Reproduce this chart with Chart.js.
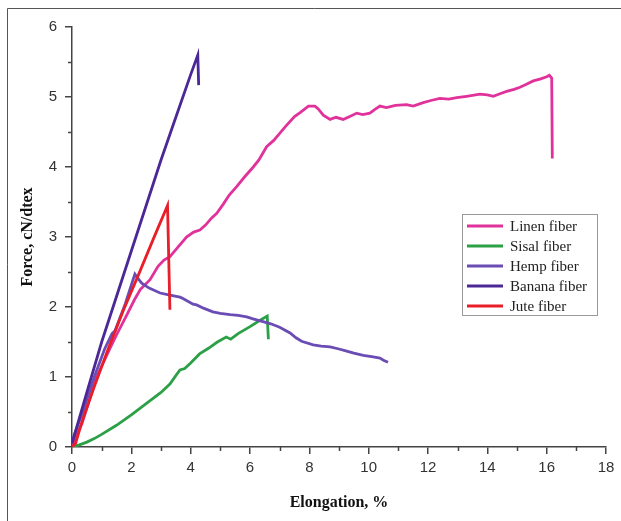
<!DOCTYPE html>
<html>
<head>
<meta charset="utf-8">
<script src="https://cdn.jsdelivr.net/npm/chart.js@4/dist/chart.umd.min.js"></script>
<style>
  html, body { margin: 0; padding: 0; background: #ffffff; }
  #wrap { position: relative; width: 621px; height: 521px; }
</style>
</head>
<body>
<div id="wrap"><canvas id="c" width="621" height="521"></canvas></div>
<script>
// ---- Data ----
const seriesNames = ["Linen fiber", "Sisal fiber", "Hemp fiber", "Banana fiber", "Jute fiber"];

const linenX = [0, 0.1, 0.34, 0.55, 0.83, 1.05, 1.28, 1.5, 1.84, 2.1, 2.3, 2.63, 2.9, 3.1, 3.3, 3.5, 3.86, 4.1, 4.31, 4.5, 4.7, 4.88, 5.1, 5.3, 5.55, 5.8, 6.11, 6.3, 6.56, 6.8, 7.0, 7.2, 7.5, 7.7, 7.97, 8.19, 8.3, 8.47, 8.7, 8.9, 9.14, 9.4, 9.6, 9.8, 10.04, 10.2, 10.38, 10.6, 10.9, 11.28, 11.5, 11.84, 12.1, 12.4, 12.7, 12.97, 13.3, 13.75, 14.0, 14.2, 14.45, 14.65, 14.9, 15.1, 15.3, 15.55, 15.8, 16.0, 16.09, 16.17, 16.19];
const linenY = [0, 0.12, 0.34, 0.62, 1.0, 1.2, 1.41, 1.6, 1.88, 2.1, 2.25, 2.39, 2.58, 2.67, 2.72, 2.82, 3.0, 3.07, 3.1, 3.17, 3.27, 3.34, 3.47, 3.6, 3.72, 3.85, 4.0, 4.1, 4.29, 4.38, 4.48, 4.58, 4.72, 4.78, 4.87, 4.87, 4.83, 4.74, 4.68, 4.71, 4.68, 4.73, 4.77, 4.75, 4.77, 4.82, 4.87, 4.85, 4.88, 4.89, 4.87, 4.92, 4.95, 4.98, 4.97, 4.99, 5.01, 5.04, 5.03, 5.01, 5.05, 5.08, 5.11, 5.14, 5.18, 5.23, 5.26, 5.29, 5.31, 5.27, 4.12];

const sisalX = [0, 0.25, 0.5, 0.75, 1.0, 1.5, 2.0, 2.5, 3.0, 3.3, 3.5, 3.64, 3.8, 4.0, 4.3, 4.6, 4.9, 5.2, 5.35, 5.6, 6.0, 6.34, 6.58, 6.62];
const sisalY = [0, 0.03, 0.07, 0.12, 0.18, 0.31, 0.46, 0.62, 0.78, 0.9, 1.02, 1.1, 1.12, 1.2, 1.33, 1.41, 1.5, 1.57, 1.54, 1.62, 1.72, 1.81, 1.87, 1.54];

const hempX = [0, 0.1, 0.4, 0.75, 1.1, 1.35, 1.45, 1.8, 2.05, 2.12, 2.2, 2.35, 2.6, 2.97, 3.3, 3.64, 3.74, 4.08, 4.2, 4.45, 4.75, 5.0, 5.33, 5.6, 5.89, 6.1, 6.44, 6.7, 7.0, 7.35, 7.55, 7.74, 8.13, 8.4, 8.7, 9.0, 9.26, 9.5, 9.82, 10.1, 10.38, 10.5, 10.65];
const hempY = [0.08, 0.2, 0.55, 1.0, 1.4, 1.62, 1.66, 2.05, 2.38, 2.47, 2.42, 2.34, 2.27, 2.2, 2.17, 2.14, 2.12, 2.04, 2.03, 1.98, 1.93, 1.91, 1.89, 1.88, 1.86, 1.83, 1.79, 1.76, 1.71, 1.63, 1.56, 1.51, 1.46, 1.44, 1.43, 1.4, 1.37, 1.34, 1.31, 1.29, 1.27, 1.24, 1.21];

const bananaX = [0, 0.5, 1.0, 1.5, 2.0, 2.5, 3.0, 3.5, 4.0, 4.24, 4.27];
const bananaY = [0.05, 0.78, 1.5, 2.15, 2.8, 3.45, 4.1, 4.71, 5.32, 5.6, 5.17];

const juteX = [0, 0.12, 0.35, 0.75, 1.2, 1.72, 2.25, 2.75, 3.22, 3.3];
const juteY = [0, 0.05, 0.38, 0.86, 1.38, 1.94, 2.47, 2.98, 3.45, 1.96];

const xTickValues = [0, 2, 4, 6, 8, 10, 12, 14, 16, 18];
const yTickValues = [0, 1, 2, 3, 4, 5, 6];
const xTitle = "Elongation, %";
const yTitle = "Force, cN/dtex";

const seriesColors = ["#e0329a", "#2ca046", "#6a4cb4", "#4b2896", "#e81e28"];

// ---- Build datasets ----
function pts(xs, ys) { return xs.map((x, i) => ({ x: x, y: ys[i] })); }
const seriesData = [pts(linenX, linenY), pts(sisalX, sisalY), pts(hempX, hempY), pts(bananaX, bananaY), pts(juteX, juteY)];
const datasets = seriesNames.map((name, i) => ({
  label: name,
  data: seriesData[i],
  showLine: true,
  borderColor: seriesColors[i],
  backgroundColor: seriesColors[i],
  borderWidth: 2.8,
  pointRadius: 0,
  pointHoverRadius: 0,
  tension: 0,
  fill: false,
  order: seriesNames.length - i
}));

const AXIS_COLOR = "#444444";
const TICK_FONT = { family: "'Liberation Sans', Arial, sans-serif", size: 15 };
const TITLE_FONT = { family: "'Liberation Serif', 'Times New Roman', serif", size: 16, weight: "bold" };

// Minor ticks, frame and legend
const decorPlugin = {
  id: "decor",
  beforeDraw(chart) {
    const ctx = chart.ctx;
    ctx.save();
    ctx.strokeStyle = "#555555";
    ctx.lineWidth = 1;
    ctx.beginPath();
    ctx.moveTo(7.5, 521); ctx.lineTo(7.5, 8.5); ctx.lineTo(621, 8.5);
    ctx.stroke();
    ctx.restore();
  },
  afterDraw(chart) {
    const ctx = chart.ctx;
    const xs = chart.scales.x, ys = chart.scales.y;
    ctx.save();
    ctx.strokeStyle = AXIS_COLOR;
    ctx.lineWidth = 1.5;
    ctx.beginPath();
    for (let i = 0; i < xTickValues.length - 1; i++) {
      const v = (xTickValues[i] + xTickValues[i + 1]) / 2;
      const px = Math.round(xs.getPixelForValue(v)) + 0.5;
      ctx.moveTo(px, ys.bottom); ctx.lineTo(px, ys.bottom + 4);
    }
    for (let i = 0; i < yTickValues.length - 1; i++) {
      const v = (yTickValues[i] + yTickValues[i + 1]) / 2;
      const py = Math.round(ys.getPixelForValue(v)) + 0.5;
      ctx.moveTo(xs.left, py); ctx.lineTo(xs.left - 4, py);
    }
    ctx.stroke();

    // Legend box
    const bx = 462.5, by = 214.5, bw = 135, bh = 101;
    ctx.fillStyle = "#ffffff";
    ctx.fillRect(bx, by, bw, bh);
    ctx.strokeStyle = "#9a9a9a";
    ctx.lineWidth = 1;
    ctx.strokeRect(bx, by, bw, bh);
    ctx.font = "15px 'Liberation Serif', 'Times New Roman', serif";
    ctx.textBaseline = "middle";
    ctx.textAlign = "left";
    chart.data.datasets.forEach((ds, i) => {
      const y = 226 + i * 20;
      ctx.strokeStyle = ds.borderColor;
      ctx.lineWidth = 3;
      ctx.beginPath();
      ctx.moveTo(467, y); ctx.lineTo(503, y);
      ctx.stroke();
      ctx.fillStyle = "#222222";
      ctx.fillText(ds.label, 510, y + 1);
    });
    ctx.restore();
  }
};

new Chart(document.getElementById("c"), {
  type: "scatter",
  data: { datasets: datasets },
  options: {
    responsive: false,
    animation: false,
    events: [],
    layout: { padding: { left: 0, right: 15, top: 27, bottom: 0 } },
    plugins: { legend: { display: false }, tooltip: { enabled: false } },
    scales: {
      x: {
        type: "linear",
        min: 0, max: 18,
        afterBuildTicks(scale) { scale.ticks = xTickValues.map(v => ({ value: v })); },
        afterFit(scale) { scale.height = 74; },
        ticks: { font: TICK_FONT, color: "#333333", padding: 5, maxRotation: 0 },
        grid: { drawOnChartArea: false, drawTicks: true, tickLength: 7, color: AXIS_COLOR, lineWidth: 1.5 },
        border: { display: true, color: AXIS_COLOR, width: 1.5 },
        title: { display: true, text: xTitle, font: TITLE_FONT, color: "#111111", padding: { top: 0, bottom: 9 } }
      },
      y: {
        type: "linear",
        min: 0, max: 6,
        afterBuildTicks(scale) { scale.ticks = yTickValues.map(v => ({ value: v })); },
        afterFit(scale) { scale.width = 72; },
        ticks: { font: TICK_FONT, color: "#333333", padding: 8 },
        grid: { drawOnChartArea: false, drawTicks: true, tickLength: 7, color: AXIS_COLOR, lineWidth: 1.5 },
        border: { display: true, color: AXIS_COLOR, width: 1.5 },
        title: { display: true, text: yTitle, font: TITLE_FONT, color: "#111111", padding: { top: 18, bottom: 0 } }
      }
    }
  },
  plugins: [decorPlugin]
});
</script>
</body>
</html>
